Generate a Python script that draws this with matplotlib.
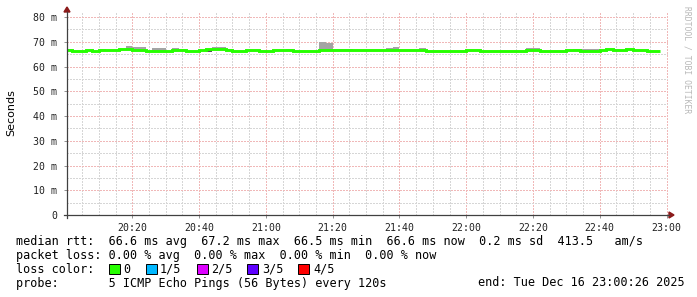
import matplotlib
matplotlib.use('Agg')
import matplotlib.pyplot as plt
import numpy as np
from matplotlib.patches import Rectangle, Polygon
from matplotlib.lines import Line2D

# ---------------- data ----------------
# 2-minute bins starting 20:00 (minutes after 20:00)
bin_start = list(range(0, 178, 2))  # 89 bins
median_ms = [66.7, 66.4, 66.4, 66.7, 66.4, 66.7, 66.7, 66.7, 67.0, 67.0,
             66.7, 66.7, 66.4, 66.4, 66.4, 66.4, 66.7, 66.7, 66.4, 66.4,
             66.7, 67.0, 67.0, 67.0, 66.7, 66.4, 66.4, 66.7, 66.7, 66.4,
             66.4, 66.7, 66.7, 66.7, 66.4, 66.4, 66.4, 66.4, 66.7, 66.7,
             66.7, 66.7, 66.7, 66.7, 66.7, 66.7, 66.7, 66.7, 66.7, 66.7,
             66.7, 66.7, 66.7, 66.7, 66.4, 66.4, 66.4, 66.4, 66.4, 66.4,
             66.7, 66.7, 66.4, 66.4, 66.4, 66.4, 66.4, 66.4, 66.4, 66.7,
             66.7, 66.4, 66.4, 66.4, 66.4, 66.7, 66.7, 66.4, 66.4, 66.4,
             66.7, 67.0, 66.7, 66.7, 67.0, 66.7, 66.7, 66.4, 66.4]
smoke_max_ms = [67.2, 66.4, 66.4, 66.7, 66.4, 67.2, 66.7, 66.7, 67.0, 68.2,
                68.0, 67.8, 66.4, 67.6, 67.3, 66.4, 67.5, 67.2, 66.4, 66.4,
                66.7, 67.0, 67.7, 67.7, 67.2, 66.4, 66.4, 66.7, 66.7, 66.4,
                66.4, 66.7, 66.7, 67.2, 66.4, 66.4, 66.4, 66.4, 70.0, 69.6,
                67.2, 67.2, 67.2, 66.7, 66.7, 66.7, 66.7, 66.7, 67.3, 67.8,
                66.7, 66.7, 66.7, 67.3, 66.4, 66.4, 66.4, 66.4, 66.4, 66.4,
                66.7, 66.7, 66.4, 66.4, 66.4, 66.4, 66.4, 66.4, 66.4, 67.3,
                67.3, 66.4, 66.4, 66.4, 66.4, 66.7, 67.2, 67.2, 67.2, 67.2,
                66.7, 67.0, 67.2, 66.7, 67.0, 66.7, 66.7, 66.4, 66.4]
smoke_min_ms = [m if i != 21 else 66.0 for i, m in enumerate(median_ms)]

x_ticks = [20, 40, 60, 80, 100, 120, 140, 160, 180]
x_labels = ["20:20", "20:40", "21:00", "21:20", "21:40", "22:00", "22:20", "22:40", "23:00"]
y_ticks = [0, 10, 20, 30, 40, 50, 60, 70, 80]
y_labels = ["0", "10 m", "20 m", "30 m", "40 m", "50 m", "60 m", "70 m", "80 m"]

loss_labels = ["0", "1/5", "2/5", "3/5", "4/5"]
loss_colors = ["#26ff00", "#00b8ff", "#dd00ff", "#5e00ff", "#ff0000"]

line1 = "median rtt:  66.6 ms avg  67.2 ms max  66.5 ms min  66.6 ms now  0.2 ms sd  413.5   am/s"
line2 = "packet loss: 0.00 % avg  0.00 % max  0.00 % min  0.00 % now"
line3 = "loss color:"
line4 = "probe:       5 ICMP Echo Pings (56 Bytes) every 120s"
end_text = "end: Tue Dec 16 23:00:26 2025"

# ---------------- figure ----------------
W, H = 697, 297
fig = plt.figure(figsize=(W / 100, H / 100), dpi=100)
fig.patch.set_facecolor('white')

def fx(x):
    return x / W

def fy(y):
    return 1 - y / H

L, R, T, B = 67, 668, 13, 215
ax = fig.add_axes([fx(L), fy(B), (R - L) / W, (B - T) / H])
ax.set_facecolor('white')
x0, x1 = 26 / 60, 180 + 26 / 60
ax.set_xlim(x0, x1)
ymax = 80 + (17 - T) * 80 / (B - 17)
ax.set_ylim(0, ymax)

# grid
major_c = '#f0b8b8'
minor_c = '#d6d6d6'
ls = (0, (1, 1))
for t in range(5, 181, 5):
    c = major_c if t % 20 == 0 else minor_c
    ax.axvline(t, color=c, lw=0.75, ls=ls, zorder=1, antialiased=False)
for v in range(5, 81, 5):
    c = major_c if v % 10 == 0 else minor_c
    ax.axhline(v, color=c, lw=0.75, ls=ls, zorder=1, antialiased=False)

# smoke
bs = np.array(bin_start, dtype=float)
med = np.array(median_ms)
smax = np.array(smoke_max_ms)
smin = np.array(smoke_min_ms)
ax.bar(bs, smax - med, bottom=med, width=2, align='edge', color='#a4a4a4', linewidth=0, zorder=2)
ax.bar(bs, med - smin, bottom=smin, width=2, align='edge', color='#555555', linewidth=0, zorder=2)

# median line
edges = np.append(bs, bs[-1] + 2)
ax.stairs(med, edges, baseline=None, color=loss_colors[0], lw=2.1, zorder=3)

for s in ax.spines.values():
    s.set_visible(False)

ax.set_xticks(x_ticks)
ax.set_xticklabels(x_labels)
ax.set_yticks(y_ticks)
ax.set_yticklabels(y_labels)
ax.tick_params(axis='both', which='both', length=2.5, width=0.7, color='#909090',
               labelsize=7.1, labelcolor='#202020')
ax.tick_params(axis='x', pad=3)
ax.tick_params(axis='y', pad=4.5)
for lab in ax.get_xticklabels() + ax.get_yticklabels():
    lab.set_family('DejaVu Sans Mono')

# axis lines with arrows
axis_c = '#404040'
arrow_c = '#8b1a1a'
fig.add_artist(Line2D([fx(L), fx(L)], [fy(B + 3), fy(T - 1)], color=axis_c, lw=0.9))
fig.add_artist(Line2D([fx(L - 3), fx(R + 1)], [fy(B), fy(B)], color=axis_c, lw=0.9))
fig.add_artist(Polygon([(fx(L - 3), fy(T - 1)), (fx(L + 3), fy(T - 1)), (fx(L), fy(T - 6))],
                       closed=True, color=arrow_c, transform=fig.transFigure))
fig.add_artist(Polygon([(fx(R + 1), fy(B - 3)), (fx(R + 1), fy(B + 3)), (fx(R + 6), fy(B))],
                       closed=True, color=arrow_c, transform=fig.transFigure))

# y label
fig.text(fx(11), fy(113), "Seconds", rotation=90, ha='center', va='center',
         fontsize=8, family='DejaVu Sans', color='#000000')

# watermark
fig.text(fx(687), fy(60), "RRDTOOL / TOBI OETIKER", rotation=270, ha='center', va='center',
         fontsize=5.8, family='DejaVu Sans Mono', color='#b8b8b8')

# bottom text
mono = dict(family='DejaVu Sans Mono', fontsize=8.5, color='#000000', va='baseline', ha='left')
fig.text(fx(16), fy(245.5), line1, **mono)
fig.text(fx(16), fy(259), line2, **mono)
fig.text(fx(16), fy(273), line3, **mono)
fig.text(fx(16), fy(286.5), line4, **mono)
fig.text(fx(478), fy(286.5), end_text, **mono)

sq_x = [109, 146, 197, 247, 298]
txt_x = [123, 160, 211, 262, 313]
for sx, tx, lab, col in zip(sq_x, txt_x, loss_labels, loss_colors):
    fig.add_artist(Rectangle((fx(sx), fy(274)), 11 / W, 10 / H, facecolor=col,
                             edgecolor='#000000', lw=0.7, transform=fig.transFigure))
    fig.text(fx(tx), fy(273), lab, **mono)

fig.savefig('out.png', dpi=100, facecolor='white')
